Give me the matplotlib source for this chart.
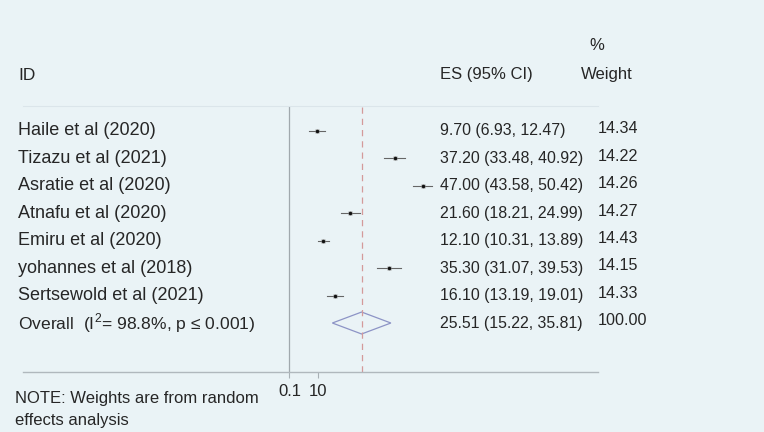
import matplotlib
matplotlib.use("Agg")
import matplotlib.pyplot as plt
import matplotlib.transforms as mtransforms
from matplotlib.patches import Polygon

plt.rcParams['font.family'] = ['Liberation Sans', 'DejaVu Sans']
plt.rcParams['mathtext.fontset'] = 'custom'
plt.rcParams['mathtext.rm'] = 'Liberation Sans'

# Daten
studies = ["Haile et al (2020)", "Tizazu et al (2021)", "Asratie et al (2020)",
           "Atnafu et al (2020)", "Emiru et al (2020)", "yohannes et al (2018)",
           "Sertsewold et al (2021)"]
es = [9.70, 37.20, 47.00, 21.60, 12.10, 35.30, 16.10]
lower = [6.93, 33.48, 43.58, 18.21, 10.31, 31.07, 13.19]
upper = [12.47, 40.92, 50.42, 24.99, 13.89, 39.53, 19.01]
weights = [14.34, 14.22, 14.26, 14.27, 14.43, 14.15, 14.33]
overall_label = r"Overall  (I$^{2}$= 98.8%, p ≤ 0.001)"
overall_es, overall_lo, overall_hi = 25.51, 15.22, 35.81
overall_weight = 100.00
xticks = [0.1, 10]
xticklabels = ["0.1", "10"]

bg = "#eaf3f6"
txt = "#262626"
W, H = 764, 432

fig = plt.figure(figsize=(7.64, 4.32), dpi=100, facecolor=bg)
ax = fig.add_axes([23 / W, (H - 372) / H, 575 / W, 266 / H], facecolor=bg)

ax.set_xlim(-93.63, 108.69)
ax.set_ylim(8.786, -0.911)

for s in ["left", "right"]:
    ax.spines[s].set_visible(False)
ax.spines["top"].set_color("#dbe5ea")
ax.spines["top"].set_linewidth(0.8)
ax.spines["bottom"].set_color("#b0b8bd")
ax.spines["bottom"].set_linewidth(1.0)

ax.set_yticks([])
ax.set_xticks(xticks)
ax.set_xticklabels(xticklabels, fontsize=12, color=txt)
ax.tick_params(axis="x", length=4, color="#a8b0b5", pad=5)

# Nulllinie und Linie des Gesamteffekts
ax.axvline(0, color="#a0a8ad", lw=0.9)
ax.axvline(overall_es, color="#d49a9a", lw=0.9, ls=(0, (5, 4)))

rows = list(range(len(studies)))
for i in rows:
    ax.plot([lower[i], upper[i]], [i, i], color="#666666", lw=0.8)
    ax.plot(es[i], i, marker="s", ms=3.5, color="#9a9a9a", mec="none")
    ax.plot(es[i], i, marker="o", ms=2.5, color="#111111", mec="none")

yo = len(studies)
diamond = Polygon([[overall_lo, yo], [overall_es, yo - 0.4],
                   [overall_hi, yo], [overall_es, yo + 0.4]],
                  closed=True, fill=False, ec="#8d94c6", lw=0.9)
ax.add_patch(diamond)

# Textspalten
trans = mtransforms.blended_transform_factory(fig.transFigure, ax.transData)
x_id = 18 / W
x_es = 440 / W
x_w = 598 / W
labels = studies + [overall_label]
es_txt = [f"{e:.2f} ({l:.2f}, {u:.2f})" for e, l, u in zip(es, lower, upper)]
es_txt.append(f"{overall_es:.2f} ({overall_lo:.2f}, {overall_hi:.2f})")
w_txt = [f"{w:.2f}" for w in weights] + [f"{overall_weight:.2f}"]
for i, (lab, e, w) in enumerate(zip(labels, es_txt, w_txt)):
    ax.text(x_id, i, lab, transform=trans, fontsize=13 if i < len(studies) else 12.6,
            color=txt, va="center", ha="left", clip_on=False)
    ax.text(x_es, i, e, transform=trans, fontsize=11.4, color=txt,
            va="center", ha="left", clip_on=False)
    ax.text(x_w, i - 0.08, w, transform=trans, fontsize=11.6, color=txt,
            va="center", ha="left", clip_on=False)

# Kopfzeile
fig.text(x_id, 1 - 75 / H, "ID", fontsize=12.5, color=txt, va="center", ha="left")
fig.text(x_es, 1 - 75 / H, "ES (95% CI)", fontsize=12, color=txt, va="center", ha="left")
fig.text(607 / W, 1 - 75 / H, "Weight", fontsize=12, color=txt, va="center", ha="center")
fig.text(597 / W, 1 - 45 / H, "%", fontsize=12, color=txt, va="center", ha="center")

# Hinweis
fig.text(15 / W, 1 - 398 / H, "NOTE: Weights are from random", fontsize=12, color=txt,
         va="center", ha="left")
fig.text(15 / W, 1 - 420 / H, "effects analysis", fontsize=12, color=txt,
         va="center", ha="left")

fig.savefig("out.png", dpi=100, facecolor=bg)
